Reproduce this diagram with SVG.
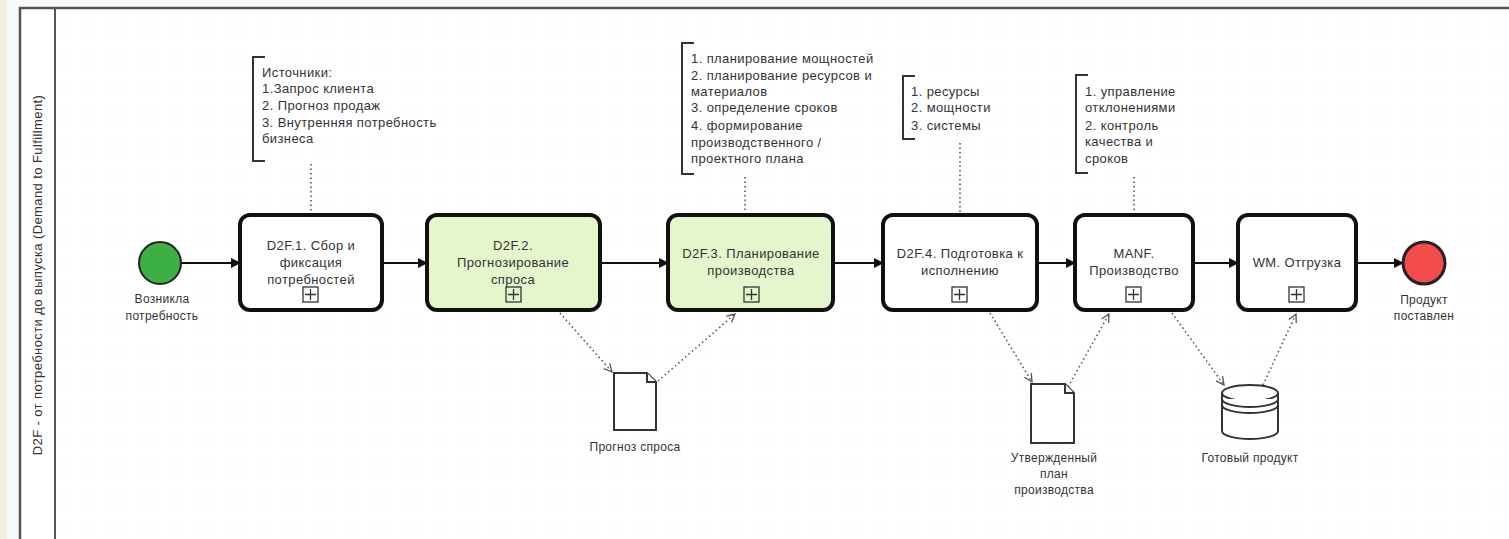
<svg xmlns="http://www.w3.org/2000/svg" width="1509" height="539" viewBox="0 0 1509 539">
<defs>
<style>
text{font-family:"Liberation Sans",Arial,sans-serif;fill:#333}
.t{font-size:13px;letter-spacing:0.4px;text-anchor:middle}
.n{font-size:13px;letter-spacing:0.4px}
.l{font-size:12px;letter-spacing:0.3px;text-anchor:middle}
.task{stroke:#111;stroke-width:4}
.seq{stroke:#111;stroke-width:2;fill:none}
.as{stroke:#555;stroke-width:1.6;fill:none;stroke-dasharray:1.5 3}
.br{stroke:#333;stroke-width:2;fill:none}
.ex{fill:none;stroke:#333;stroke-width:1.3}
.obj{fill:#fff;stroke:#333;stroke-width:2}
</style>
<pattern id="dots" width="11" height="11" patternUnits="userSpaceOnUse"><rect x="5" y="5" width="1" height="1" fill="#eceef1"/></pattern>
<marker id="arr" markerWidth="10" markerHeight="10" refX="9" refY="5" orient="auto" markerUnits="userSpaceOnUse"><path d="M0,0 L10,5 L0,10 z" fill="#111"/></marker>
<marker id="oarr" markerWidth="10" markerHeight="10" refX="9" refY="5" orient="auto" markerUnits="userSpaceOnUse"><path d="M1,1 L9,5 L1,9" fill="none" stroke="#555" stroke-width="1.3"/></marker>
</defs>
<rect width="1509" height="539" fill="#f6f8fa"/>
<rect x="0" y="0" width="7" height="539" fill="#f5efdf"/>
<rect x="20" y="8" width="1500" height="540" fill="#fff"/>
<rect x="55" y="8" width="1460" height="540" fill="url(#dots)"/>
<g id="pool">
<rect x="20" y="8" width="1500" height="540" fill="none" stroke="#555" stroke-width="2.5"/>
<line x1="55" y1="8" x2="55" y2="539" stroke="#555" stroke-width="2"/>
<text class="n" transform="translate(42,275) rotate(-90)" text-anchor="middle">D2F - от потребности до выпуска (Demand to Fulfillment)</text>
</g>
<g id="connectors">
<line class="seq" x1="181" y1="263" x2="240" y2="263" marker-end="url(#arr)"/>
<line class="seq" x1="382" y1="263" x2="427" y2="263" marker-end="url(#arr)"/>
<line class="seq" x1="600" y1="263" x2="668" y2="263" marker-end="url(#arr)"/>
<line class="seq" x1="833" y1="263" x2="883" y2="263" marker-end="url(#arr)"/>
<line class="seq" x1="1037" y1="263" x2="1075" y2="263" marker-end="url(#arr)"/>
<line class="seq" x1="1193" y1="263" x2="1238" y2="263" marker-end="url(#arr)"/>
<line class="seq" x1="1356" y1="263" x2="1403" y2="263" marker-end="url(#arr)"/>
<line class="as" x1="311" y1="164" x2="311" y2="213"/>
<line class="as" x1="745" y1="177" x2="745" y2="213"/>
<line class="as" x1="960" y1="143" x2="960" y2="213"/>
<line class="as" x1="1134" y1="177" x2="1134" y2="213"/>
<line class="as" x1="560" y1="313" x2="612" y2="372" marker-end="url(#oarr)"/>
<line class="as" x1="658" y1="381" x2="735" y2="314" marker-end="url(#oarr)"/>
<line class="as" x1="990" y1="313" x2="1032" y2="382" marker-end="url(#oarr)"/>
<line class="as" x1="1068" y1="387" x2="1109" y2="314" marker-end="url(#oarr)"/>
<line class="as" x1="1172" y1="313" x2="1224" y2="385" marker-end="url(#oarr)"/>
<line class="as" x1="1263" y1="385" x2="1296" y2="314" marker-end="url(#oarr)"/>
</g>
<g id="start">
<circle cx="160" cy="263" r="21" fill="#3cb043" stroke="#222" stroke-width="2"/>
<text class="l" x="162" y="303">Возникла</text>
<text class="l" x="162" y="320">потребность</text>
</g>
<g id="task1">
<rect class="task" x="240" y="215" width="142" height="95" rx="10" fill="#fff"/>
<text class="t" x="311" y="250">D2F.1. Сбор и</text>
<text class="t" x="311" y="267">фиксация</text>
<text class="t" x="311" y="284">потребностей</text>
<rect class="ex" x="303" y="287" width="15" height="15"/><path class="ex" d="M310.5,289 V300 M305,294.5 H316"/>
</g>
<g id="task2">
<rect class="task" x="427" y="215" width="173" height="95" rx="10" fill="#e5f6cd"/>
<text class="t" x="513" y="250">D2F.2.</text>
<text class="t" x="513" y="267">Прогнозирование</text>
<text class="t" x="513" y="284">спроса</text>
<rect class="ex" x="506" y="287" width="15" height="15"/><path class="ex" d="M513.5,289 V300 M508,294.5 H519"/>
</g>
<g id="task3">
<rect class="task" x="668" y="215" width="165" height="95" rx="10" fill="#e5f6cd"/>
<text class="t" x="751" y="258">D2F.3. Планирование</text>
<text class="t" x="751" y="275">производства</text>
<rect class="ex" x="744" y="287" width="15" height="15"/><path class="ex" d="M751.5,289 V300 M746,294.5 H757"/>
</g>
<g id="task4">
<rect class="task" x="883" y="215" width="154" height="95" rx="10" fill="#fff"/>
<text class="t" x="960" y="258">D2F.4. Подготовка к</text>
<text class="t" x="960" y="275">исполнению</text>
<rect class="ex" x="952" y="287" width="15" height="15"/><path class="ex" d="M959.5,289 V300 M954,294.5 H965"/>
</g>
<g id="manf">
<rect class="task" x="1075" y="215" width="118" height="95" rx="10" fill="#fff"/>
<text class="t" x="1134" y="258">MANF.</text>
<text class="t" x="1134" y="275">Производство</text>
<rect class="ex" x="1126" y="287" width="15" height="15"/><path class="ex" d="M1133.5,289 V300 M1128,294.5 H1139"/>
</g>
<g id="wm">
<rect class="task" x="1238" y="215" width="118" height="95" rx="10" fill="#fff"/>
<text class="t" x="1297" y="267">WM. Отгрузка</text>
<rect class="ex" x="1289" y="287" width="15" height="15"/><path class="ex" d="M1296.5,289 V300 M1291,294.5 H1302"/>
</g>
<g id="end">
<circle cx="1424" cy="263" r="21" fill="#f44a4a" stroke="#222" stroke-width="3"/>
<text class="l" x="1424" y="304">Продукт</text>
<text class="l" x="1424" y="320">поставлен</text>
</g>
<g id="note1">
<path class="br" d="M265,57 H253 V161 H265"/>
<text class="n" x="262" y="77">Источники:</text>
<text class="n" x="262" y="93">1.Запрос клиента</text>
<text class="n" x="262" y="110">2. Прогноз продаж</text>
<text class="n" x="262" y="127">3. Внутренняя потребность</text>
<text class="n" x="262" y="143">бизнеса</text>
</g>
<g id="note2">
<path class="br" d="M694,43 H682 V174 H694"/>
<text class="n" x="691" y="63">1. планирование мощностей</text>
<text class="n" x="691" y="80">2. планирование ресурсов и</text>
<text class="n" x="691" y="96">материалов</text>
<text class="n" x="691" y="112">3. определение сроков</text>
<text class="n" x="691" y="130">4. формирование</text>
<text class="n" x="691" y="147">производственного /</text>
<text class="n" x="691" y="163">проектного плана</text>
</g>
<g id="note3">
<path class="br" d="M915,76 H903 V139 H915"/>
<text class="n" x="911" y="96">1. ресурсы</text>
<text class="n" x="911" y="112">2. мощности</text>
<text class="n" x="911" y="130">3. системы</text>
</g>
<g id="note4">
<path class="br" d="M1088,75 H1076 V173 H1088"/>
<text class="n" x="1085" y="96">1. управление</text>
<text class="n" x="1085" y="112">отклонениями</text>
<text class="n" x="1085" y="130">2. контроль</text>
<text class="n" x="1085" y="146">качества и</text>
<text class="n" x="1085" y="163">сроков</text>
</g>
<g id="doc1">
<path class="obj" d="M614,373 H647 L656,382 V430 H614 Z"/>
<path class="obj" d="M647,373 V382 H656" stroke-width="1.5"/>
<text class="l" x="635" y="451">Прогноз спроса</text>
</g>
<g id="doc2">
<path class="obj" d="M1031,384 H1065 L1074,393 V443 H1031 Z"/>
<path class="obj" d="M1065,384 V393 H1074" stroke-width="1.5"/>
<text class="l" x="1054" y="462">Утвержденный</text>
<text class="l" x="1054" y="478">план</text>
<text class="l" x="1054" y="494">производства</text>
</g>
<g id="store">
<path class="obj" d="M1222,393 V431 A28,8 0 0 0 1278,431 V393"/>
<ellipse class="obj" cx="1250" cy="393" rx="28" ry="8"/>
<path class="obj" fill="none" d="M1222,399 A28,8 0 0 0 1278,399 M1222,405 A28,8 0 0 0 1278,405"/>
<text class="l" x="1250" y="462">Готовый продукт</text>
</g>
</svg>
